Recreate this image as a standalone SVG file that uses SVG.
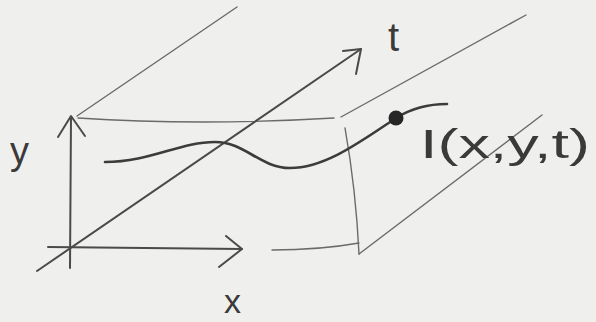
<svg xmlns="http://www.w3.org/2000/svg" width="596" height="322" viewBox="0 0 596 322">
<style>
.thin{fill:none;stroke:#6a6a6a;stroke-width:1.4;stroke-linecap:round;stroke-linejoin:round}
.ax{fill:none;stroke:#4a4a4a;stroke-width:2;stroke-linecap:round;stroke-linejoin:round}
.cur{fill:none;stroke:#3c3c3c;stroke-width:2.6;stroke-linecap:round}
.lbl{font-family:"Liberation Sans","DejaVu Sans",sans-serif;fill:#3a3a3a}
</style>
<rect width="596" height="322" fill="#efefed"/>
<g id="box">
<path class="thin" d="M77,116 L237,7"/>
<path class="thin" d="M78,118 Q200,126 334,118"/>
<path class="thin" d="M341,117 L526,15"/>
<path class="thin" d="M345,128 Q356,190 359,254"/>
<path class="thin" d="M272,250 Q320,250 359,243"/>
<path class="thin" d="M359,254 L542,115"/>
</g>
<g id="axes">
<path class="ax" d="M37,271 L361,49"/>
<path class="ax" d="M343,51 L361,49 L356,74"/>
<path class="ax" d="M70,268 L71,117"/>
<path class="ax" d="M58,137 L71,116 L85,136"/>
<path class="ax" d="M48,247 L242,249"/>
<path class="ax" d="M226,236 L242,249 L219,267"/>
</g>
<g id="signal">
<path class="cur" d="M105,162 C150,162 180,142 215,142 C245,142 260,168 290,168 C325,168 360,142 396,118 C412,108 430,104 447,104"/>
<circle cx="396" cy="118" r="7.5" fill="#262626"/>
</g>
<g id="labels">
<text class="lbl" x="388" y="51" font-size="40">t</text>
<text class="lbl" x="10" y="164" font-size="38">y</text>
<text class="lbl" x="224" y="313" font-size="34">x</text>
<text class="lbl" x="420" y="158" font-size="40" textLength="170" lengthAdjust="spacingAndGlyphs">I(x,y,t)</text>
</g>
</svg>
